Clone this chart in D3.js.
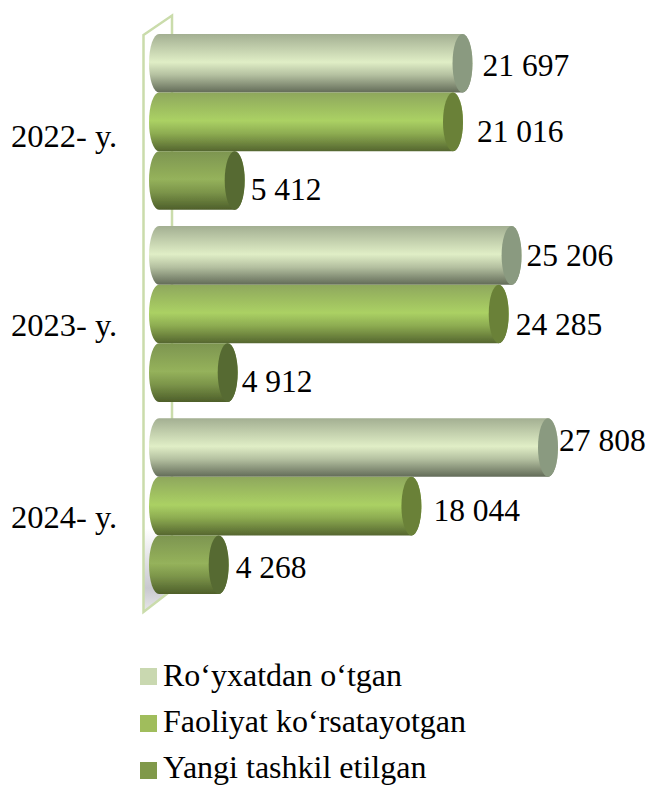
<!DOCTYPE html>
<html><head><meta charset="utf-8">
<script src="https://cdn.jsdelivr.net/npm/d3@7/dist/d3.min.js"></script>
<style>html,body{margin:0;padding:0;background:#fff;overflow:hidden}svg{display:block}text{font-family:"Liberation Serif",serif;fill:#000}</style>
</head><body><svg id="c" width="649" height="785"></svg>
<script>
const years = ["2022- y.", "2023- y.", "2024- y."];
const seriesNames = ["Ro‘yxatdan o‘tgan", "Faoliyat ko‘rsatayotgan", "Yangi tashkil etilgan"];
const registered = [21697, 25206, 27808];
const active = [21016, 24285, 18044];
const created = [5412, 4912, 4268];
const valueLabels = [["21 697","25 206","27 808"],["21 016","24 285","18 044"],["5 412","4 912","4 268"]];
const labelNudgeX = [[0,-5,-9],[4,-3,2],[-4,-6,-3]];
const labelNudgeY = [[2,0,-8],[9,10,4],[9,8,2]];
const yearNudgeY = [16,13,13];
const ramps = [
  {top:"#a3af92", mid:"#e0eec6", bot:"#626b58", cap:"#8a9a80"},
  {top:"#8ea75c", mid:"#abd164", bot:"#55662f", cap:"#6a8139"},
  {top:"#7d9550", mid:"#95b25b", bot:"#4e5f2a", cap:"#566a32"}
];
const svg = d3.select("#c");
const defs = svg.append("defs");
ramps.forEach((r,i)=>{
  const g = defs.append("linearGradient").attr("id","g"+i).attr("x1",0).attr("y1",0).attr("x2",0).attr("y2",1);
  [[0,r.top],[.48,r.mid],[.7,d3.interpolateRgb(r.mid,r.bot)(.35)],[1,r.bot]].forEach(s=>g.append("stop").attr("offset",s[0]).attr("stop-color",s[1]));
});
const wallGrad = defs.append("linearGradient").attr("id","wall").attr("x1",0).attr("y1",0).attr("x2",0).attr("y2",1);
[[0,"#fff"],[.86,"#fff"],[.96,"#c9c9cf"],[1,"#e8e8ea"]].forEach(s=>wallGrad.append("stop").attr("offset",s[0]).attr("stop-color",s[1]));
defs.append("filter").attr("id","soft").append("feGaussianBlur").attr("stdDeviation",0.5);

const x = d3.scaleLinear().domain([0,27808]).range([159,548]);
const y0 = d3.scaleBand().domain(d3.range(3)).range([34,594]).paddingInner(0.085).paddingOuter(0);
const y1 = d3.scaleBand().domain(d3.range(3)).range([0,y0.bandwidth()]);
const rx = 10;

svg.append("path").attr("d",d3.line()([[143.5,35],[172,15.5],[172,590],[143.5,612]])+"Z")
  .attr("fill","url(#wall)").attr("stroke","#cadcab").attr("stroke-width",2.5);

const rows = [registered,active,created];
years.forEach((yr,g)=>{
  rows.forEach((vals,s)=>{
    const top = y0(g)+y1(s), h = y1.bandwidth(), ry = h/2, cx = x(vals[g]), x0 = x(0);
    const r = svg.append("g");
    const shapes = r.append("g").attr("filter","url(#soft)");
    shapes.append("path").attr("d",`M${x0},${top}L${cx},${top}A${rx},${ry} 0 0 1 ${cx},${top+h}L${x0},${top+h}A${rx},${ry} 0 0 1 ${x0},${top}Z`)
      .attr("fill",`url(#g${s})`);
    shapes.append("ellipse").attr("cx",cx).attr("cy",top+ry).attr("rx",rx).attr("ry",ry).attr("fill",ramps[s].cap);
    r.append("text").attr("x",cx+rx+10+labelNudgeX[s][g]).attr("y",top+ry+11+labelNudgeY[s][g])
      .attr("font-size",31.5).text(valueLabels[s][g]);
  });
  svg.append("text").attr("x",11).attr("y",y0(g)+y0.bandwidth()/2+9+yearNudgeY[g]).attr("font-size",32.5).text(yr);
});

const legendY = d3.scalePoint().domain(d3.range(3)).range([686,778]);
seriesNames.forEach((n,i)=>{
  svg.append("rect").attr("x",140).attr("y",[668,715,762][i]).attr("width",17).attr("height",17)
    .attr("fill",["#c9d8b0","#a0bd5c","#80994a"][i]);
  svg.append("text").attr("x",163).attr("y",legendY(i)).attr("font-size",32).text(n);
});
</script></body></html>
